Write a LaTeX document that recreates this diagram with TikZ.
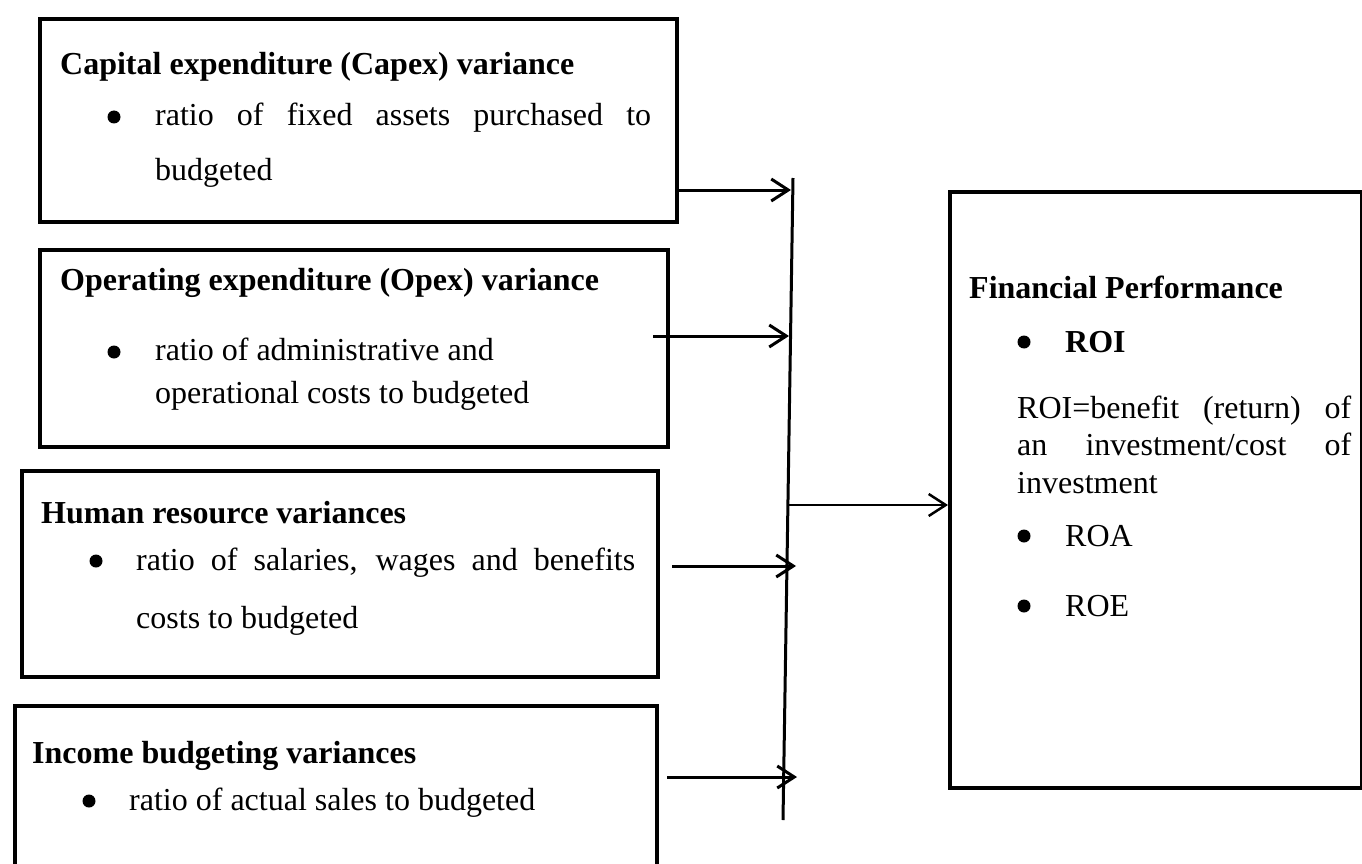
\documentclass[tikz,border=0pt]{standalone}
\usepackage{fontspec}
\setmainfont{Liberation Serif}
\usetikzlibrary{arrows.meta}

% stretch the words of one line to a given width
\newcommand{\spreadline}[2]{\makebox[#1][s]{#2}}

\begin{document}
\begin{tikzpicture}[x=1pt, y=-1pt,
    box/.style={draw, line width=4pt, inner sep=0pt, anchor=north west},
    txt/.style={anchor=base west, inner sep=0pt, font=\fontsize{32}{38}\selectfont},
    dot/.style={circle, fill, inner sep=0pt, minimum size=13pt},
    arr/.style={line width=3pt, -{Straight Barb[length=17pt,width=22pt]}}]

    \clip (0,0) rectangle (1362,864);
    \fill[white] (0,0) rectangle (1362,864);

    % boxes on the left
    \node[box, minimum width=637pt, minimum height=203pt] (capex) at (38,17) {};
    \node[box, minimum width=628pt, minimum height=197pt] (opex) at (38,248) {};
    \node[box, minimum width=636pt, minimum height=206pt] (hr) at (20,469) {};
    \node[box, minimum width=642pt, minimum height=200pt] (income) at (13,704) {};

    % box on the right
    \node[box, minimum width=412pt, minimum height=596pt] (fin) at (948,190) {};

    % capex
    \node[txt] (capexhead) at (60,75) {\textbf{Capital expenditure (Capex) variance}};
    \node[dot] (capexbul) at (114,117) {};
    \node[txt] (capexa) at (155,125) {\spreadline{496pt}{ratio of fixed assets purchased to}};
    \node[txt] (capexb) at (155,180) {budgeted};

    % opex
    \node[txt] (opexhead) at (60,290) {\textbf{Operating expenditure (Opex) variance}};
    \node[dot] (opexbul) at (114,352) {};
    \node[txt] (opexa) at (155,360) {ratio of administrative and};
    \node[txt] (opexb) at (155,403) {operational costs to budgeted};

    % human resource
    \node[txt] (hrhead) at (41,523) {\textbf{Human resource variances}};
    \node[dot] (hrbul) at (96,561) {};
    \node[txt] (hra) at (136,570) {\spreadline{499pt}{ratio of salaries, wages and benefits}};
    \node[txt] (hrb) at (136,628) {costs to budgeted};

    % income
    \node[txt] (inchead) at (32,763) {\textbf{Income budgeting variances}};
    \node[dot] (incbul) at (89,801) {};
    \node[txt] (inca) at (129,810) {ratio of actual sales to budgeted};

    % financial performance
    \node[txt] (finhead) at (969,298) {\textbf{Financial Performance}};
    \node[dot] (roibul) at (1024,342) {};
    \node[txt] (roi) at (1065,352) {\textbf{ROI}};
    \node[txt] (roia) at (1017,418) {\spreadline{334pt}{ROI=benefit (return) of}};
    \node[txt] (roib) at (1017,455) {\spreadline{334pt}{an investment/cost of}};
    \node[txt] (roic) at (1017,493) {investment};
    \node[dot] (roabul) at (1024,536) {};
    \node[txt] (roa) at (1065,546) {ROA};
    \node[dot] (roebul) at (1024,606) {};
    \node[txt] (roe) at (1065,616) {ROE};

    % the bar and the arrows
    \coordinate (bartop) at (793,178);
    \coordinate (barbot) at (783,820);
    \draw[line width=3pt] (bartop) -- (barbot);

    \coordinate (s1) at (675,190);
    \coordinate (e1) at (791,190);
    \coordinate (s2) at (653,336);
    \coordinate (e2) at (789,336);
    \coordinate (s3) at (672,566);
    \coordinate (e3) at (796,566);
    \coordinate (s4) at (667,777);
    \coordinate (e4) at (797,777);
    \draw[arr] (s1) -- (e1);
    \draw[arr] (s2) -- (e2);
    \draw[arr] (s3) -- (e3);
    \draw[arr] (s4) -- (e4);

    \coordinate (sm) at (788,505);
    \coordinate (em) at (fin.west |- sm);
    \draw[arr, line width=2.5pt] (sm) -- (em);
\end{tikzpicture}
\end{document}
